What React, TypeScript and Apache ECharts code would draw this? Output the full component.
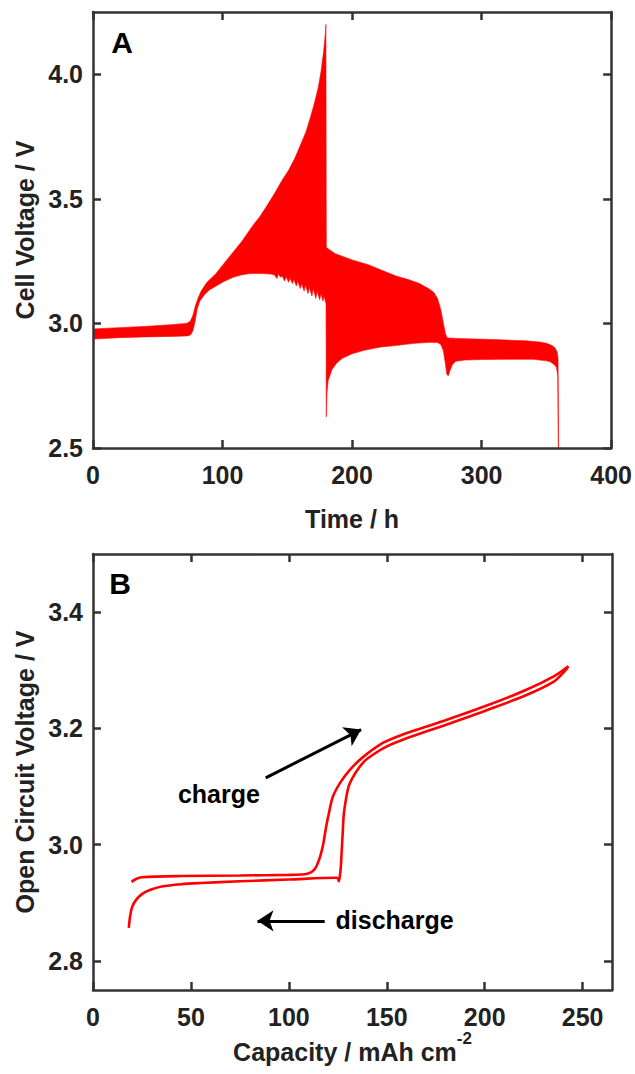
import React, { useEffect, useRef } from "react";
import * as echarts from "echarts";

// ---------- Panel A: GITT cell voltage (envelope of the dense pulse signal) ----------
const timeTicks = [0, 100, 200, 300, 400];
const voltTicksA = [2.5, 3.0, 3.5, 4.0];

// upper envelope [time h, voltage V]
const upperEnvelope: [number, number][] = [
  [0, 2.978], [20, 2.983], [40, 2.988], [60, 2.995], [72, 3.0], [75, 3.008], [77, 3.03],
  [79, 3.07], [81, 3.1], [83.5, 3.13], [88, 3.165], [95, 3.2], [101, 3.24], [108, 3.285],
  [115, 3.33], [123, 3.39], [129, 3.43], [134, 3.47], [140, 3.52], [146, 3.575], [151, 3.615],
  [156, 3.665], [160.5, 3.72], [164.5, 3.77], [168, 3.83], [171, 3.885], [174, 3.95],
  [176, 4.01], [178, 4.09], [179.3, 4.16], [179.8, 4.2], [180.1, 3.305], [187, 3.28],
  [200, 3.255], [213, 3.235], [222, 3.215], [234, 3.19], [244, 3.175], [252, 3.16],
  [259, 3.14], [263, 3.125], [266, 3.1], [268.5, 3.055], [270.5, 3.0], [272, 2.96],
  [273.5, 2.942], [280, 2.94], [303, 2.936], [320, 2.933], [334, 2.93], [345, 2.925],
  [350, 2.92], [354, 2.912], [356.5, 2.903], [358.3, 2.885], [359, 2.86], [359.4, 2.5],
];

// lower envelope [time h, voltage V]
const lowerEnvelope: [number, number][] = [
  [0, 2.937], [20, 2.943], [40, 2.946], [60, 2.948], [73, 2.95], [75.5, 2.955], [77, 2.97],
  [78.5, 3.0], [80.5, 3.06], [82.5, 3.09], [86, 3.115], [90, 3.135], [95, 3.15], [101, 3.168],
  [108, 3.185], [115, 3.195], [121, 3.2], [127, 3.2], [132, 3.2], [137, 3.198], [140, 3.195],
  [142, 3.18], [143, 3.197], [145, 3.185], [146, 3.19], [148, 3.17], [149, 3.188], [151, 3.165],
  [152, 3.182], [154, 3.16], [155, 3.177], [157, 3.15], [158, 3.17], [160, 3.14], [161, 3.16],
  [163, 3.13], [164, 3.155], [166, 3.12], [167, 3.145], [169, 3.11], [170, 3.14], [172, 3.1],
  [173, 3.13], [175, 3.095], [176, 3.12], [177.5, 3.09], [178.5, 3.11], [179.5, 3.085],
  [179.9, 3.08], [180.1, 2.625], [180.6, 2.72], [181.5, 2.77], [184.5, 2.815], [188, 2.84],
  [192.5, 2.86], [200, 2.878], [210, 2.893], [222, 2.905], [235, 2.912], [248, 2.92],
  [260, 2.924], [266, 2.923], [268.5, 2.915], [270.5, 2.89], [272, 2.84], [273.2, 2.795],
  [274.3, 2.79], [275.5, 2.81], [277.5, 2.835], [280, 2.848], [287, 2.853], [300, 2.855],
  [318, 2.856], [340, 2.856], [350, 2.85], [353, 2.846], [356, 2.835], [357.8, 2.823],
  [358.8, 2.79], [359.2, 2.5],
];

// ---------- Panel B: OCV vs capacity ----------
const capTicks = [0, 50, 100, 150, 200, 250];
const ocvTicks = [2.8, 3.0, 3.2, 3.4];

const chargeCurve: [number, number][] = [
  [19.7, 2.936], [22, 2.941], [25, 2.944], [45, 2.946], [75, 2.947], [100, 2.948], [108, 2.949],
  [111, 2.952], [113, 2.957], [114.5, 2.966], [116, 2.98], [117.5, 3.0], [119, 3.03],
  [120.5, 3.055], [122.5, 3.083], [126.5, 3.108], [131.5, 3.13], [138, 3.151], [148, 3.175],
  [158.5, 3.19], [170, 3.203], [180, 3.214], [200, 3.238], [221, 3.266], [235.5, 3.29],
  [242.7, 3.307],
];

const dischargeCurve: [number, number][] = [
  [242.7, 3.307], [241, 3.299], [235.5, 3.281], [221, 3.257], [200, 3.23], [180, 3.206],
  [158.5, 3.181], [150, 3.169], [144, 3.157], [139, 3.145], [136, 3.133], [132.5, 3.115],
  [130.5, 3.1], [129, 3.075], [128, 3.05], [127.5, 3.02], [127, 2.99], [126.5, 2.96],
  [126, 2.945], [125.5, 2.937], [125, 2.942], [124, 2.943], [100, 2.94], [75, 2.937],
  [55, 2.934], [45, 2.932], [35, 2.928], [29, 2.922], [25, 2.915], [22, 2.905], [20, 2.893],
  [19, 2.878], [18.5, 2.865], [18.3, 2.857],
];

const RED = "#ff0000";
const AXIS = "#333333";
const TEXT = "#222222";
const FONT = "Arial, 'Liberation Sans', Helvetica, sans-serif";

const bandPolygon: [number, number][] = [
  ...upperEnvelope,
  ...lowerEnvelope.slice().reverse(),
];

function boxAxis(
  kind: "x" | "y",
  gridIndex: number,
  position: string,
  min: number,
  max: number,
  ticks: number[],
  showLabels: boolean,
  fmt: (v: number) => string,
  name?: string,
  nameGap?: number,
  nameRich?: any
) {
  const ax: any = {
    type: "value",
    gridIndex,
    position,
    min,
    max,
    axisLine: { show: true, onZero: false, lineStyle: { color: AXIS, width: 2.5 } },
    axisTick: {
      show: true,
      inside: true,
      length: 8,
      customValues: ticks,
      lineStyle: { color: AXIS, width: 2.5 },
    },
    axisLabel: {
      show: showLabels,
      customValues: ticks,
      formatter: fmt,
      color: TEXT,
      fontFamily: FONT,
      fontWeight: "bold",
      fontSize: 25,
      margin: kind === "x" ? 14 : 10,
    },
    splitLine: { show: false },
    z: 10,
  };
  if (name) {
    ax.name = name;
    ax.nameLocation = "middle";
    ax.nameGap = nameGap;
    if (kind === "y") ax.nameRotate = 90;
    ax.nameTextStyle = {
      color: TEXT,
      fontFamily: FONT,
      fontWeight: "bold",
      fontSize: 25,
      rich: nameRich,
    };
  }
  return ax;
}

export default function App() {
  const ref = useRef<HTMLDivElement>(null);

  useEffect(() => {
    if (!ref.current) return;
    const chart = echarts.init(ref.current, null, { renderer: "svg" });

    const intFmt = (v: number) => String(Math.round(v));
    const oneDec = (v: number) => v.toFixed(1);

    const option: any = {
      animation: false,
      backgroundColor: "#ffffff",
      grid: [
        { left: 93, top: 12, width: 519, height: 436 },
        { left: 93, top: 554, width: 519, height: 436 },
      ],
      xAxis: [
        boxAxis("x", 0, "bottom", 0, 400, timeTicks, true, intFmt, "Time / h", 58),
        boxAxis("x", 0, "top", 0, 400, timeTicks, false, intFmt),
        boxAxis(
          "x", 1, "bottom", 0, 265, capTicks, true, intFmt,
          "{m|Capacity / mAh cm}{s|-2}", 46,
          {
            m: { fontFamily: FONT, fontWeight: "bold", fontSize: 25, color: TEXT, lineHeight: 25, verticalAlign: "bottom" },
            s: { fontFamily: FONT, fontWeight: "bold", fontSize: 17, color: TEXT, lineHeight: 17, padding: [0, 0, 18, 0], verticalAlign: "bottom" },
          }
        ),
        boxAxis("x", 1, "top", 0, 265, capTicks, false, intFmt),
      ],
      yAxis: [
        boxAxis("y", 0, "left", 2.5, 4.25, voltTicksA, true, oneDec, "Cell Voltage / V", 56),
        boxAxis("y", 0, "right", 2.5, 4.25, voltTicksA, false, oneDec),
        boxAxis("y", 1, "left", 2.75, 3.5, ocvTicks, true, oneDec, "Open Circuit Voltage / V", 56),
        boxAxis("y", 1, "right", 2.75, 3.5, ocvTicks, false, oneDec),
      ],
      graphic: [
        {
          type: "text",
          x: 122,
          y: 42,
          style: {
            text: "A",
            fill: "#000",
            font: `bold 30px ${FONT}`,
            textAlign: "center",
            textVerticalAlign: "middle",
          },
          z: 20,
        },
        {
          type: "text",
          x: 120,
          y: 583,
          style: {
            text: "B",
            fill: "#000",
            font: `bold 30px ${FONT}`,
            textAlign: "center",
            textVerticalAlign: "middle",
          },
          z: 20,
        },
      ],
      series: [
        {
          name: "Cell voltage",
          type: "custom",
          xAxisIndex: 0,
          yAxisIndex: 0,
          clip: true,
          data: bandPolygon,
          encode: { x: 0, y: 1 },
          renderItem: (params: any, api: any) => {
            if (params.dataIndex !== 0) return null;
            const pts = bandPolygon.map((p) => api.coord(p));
            return {
              type: "polygon",
              shape: { points: pts },
              style: { fill: RED, stroke: RED, lineWidth: 0.6 },
            };
          },
        },
        {
          name: "charge",
          type: "line",
          xAxisIndex: 2,
          yAxisIndex: 2,
          data: chargeCurve,
          showSymbol: false,
          smooth: 0.3,
          lineStyle: { color: RED, width: 2.6 },
          itemStyle: { color: RED },
          markLine: {
            silent: true,
            symbol: ["none", "arrow"],
            symbolSize: 16,
            label: { show: false },
            lineStyle: { color: "#000", width: 3, type: "solid" },
            data: [
              [{ coord: [88.2, 3.115] }, { coord: [136.9, 3.198] }],
              [{ coord: [118.3, 2.869] }, { coord: [84, 2.869] }],
            ],
          },
          markPoint: {
            silent: true,
            symbol: "circle",
            symbolSize: 1,
            itemStyle: { color: "rgba(0,0,0,0)" },
            label: {
              show: true,
              position: "inside",
              color: "#000",
              fontFamily: FONT,
              fontWeight: "bold",
              fontSize: 25,
              formatter: (p: any) => p.name,
            },
            data: [
              { name: "charge", coord: [64.3, 3.088] },
              { name: "discharge", coord: [154, 2.87] },
            ],
          },
        },
        {
          name: "discharge",
          type: "line",
          xAxisIndex: 2,
          yAxisIndex: 2,
          data: dischargeCurve,
          showSymbol: false,
          smooth: 0.3,
          lineStyle: { color: RED, width: 2.6 },
          itemStyle: { color: RED },
        },
      ],
    };

    chart.setOption(option);
    return () => chart.dispose();
  }, []);

  return (
    <div
      ref={ref}
      style={{ position: "absolute", left: 0, top: 0, width: 635, height: 1074, background: "#fff" }}
    />
  );
}
